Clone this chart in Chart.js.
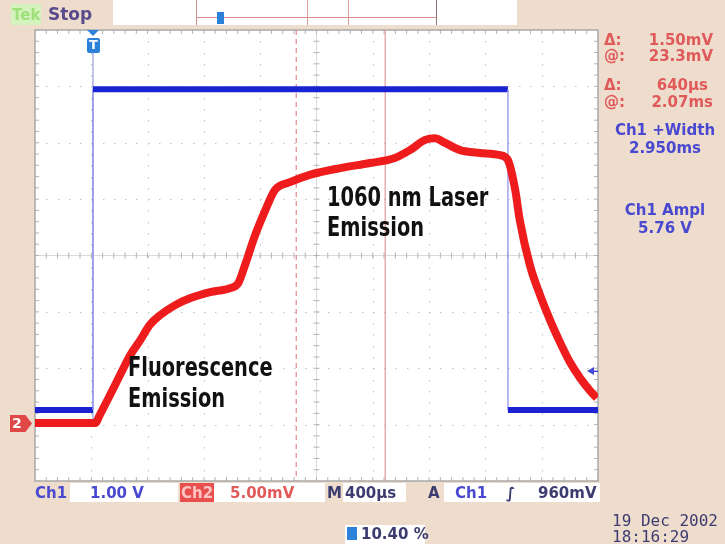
<!DOCTYPE html>
<html>
<head>
<meta charset="utf-8">
<title>Scope capture</title>
<script src="https://cdn.jsdelivr.net/npm/chart.js@4.4.1/dist/chart.umd.min.js"></script>
<style>
  html, body { margin: 0; padding: 0; }
  body {
    width: 725px; height: 544px; position: relative; overflow: hidden;
    background: #eedccd;
    font-family: "DejaVu Sans", "Liberation Sans", sans-serif; font-weight: bold;
  }
  #wrap { position: absolute; left: 0; top: 0; width: 725px; height: 544px; }
  .t { position: absolute; white-space: nowrap; font-size: 15px; line-height: 18px; }
  .box { position: absolute; background: #fff; }
  .red { color: #e05a5a; }
  .blue { color: #4848d0; }
  .navy { color: #3c3c70; }
  .note {
    position: absolute; white-space: nowrap; color: #111;
    font-family: "DejaVu Sans Condensed", "Liberation Sans Narrow", "DejaVu Sans", sans-serif;
    font-stretch: condensed; font-weight: bold; font-size: 26px; line-height: 28px;
    transform: scaleX(0.83); transform-origin: left top;
  }
  .vline { position: absolute; width: 1px; }
</style>
</head>
<body>
<div id="wrap"><canvas id="scope" width="725" height="544"></canvas></div>

<!-- top status bar -->
<div class="box" style="left:11px;top:4px;width:30px;height:21px;background:#d4f3bd;"></div>
<div class="t" style="left:12px;top:6px;color:#9fe07c;">Tek</div>
<div class="t" style="left:48px;top:5px;font-size:17px;color:#5a4c8c;">Stop</div>
<div class="box" style="left:113px;top:0;width:404px;height:25px;"></div>
<div class="box" style="left:196px;top:17px;width:240px;height:1px;background:#dc8a8a;"></div>
<div class="vline" style="left:196px;top:0;height:25px;background:#c89090;"></div>
<div class="vline" style="left:307px;top:0;height:25px;background:#dc9a9a;"></div>
<div class="vline" style="left:348px;top:0;height:25px;background:#dc9a9a;"></div>
<div class="vline" style="left:436px;top:0;height:25px;background:#8a7a7a;"></div>
<div class="box" style="left:217px;top:12px;width:7px;height:12px;background:#2c82d8;"></div>

<!-- marker glyphs -->
<div class="box" style="left:87px;top:38px;width:13px;height:15px;background:#2c82d8;border-radius:2px;"></div>
<div class="t" style="left:89px;top:36px;color:#fff;font-size:13px;">T</div>
<div class="box" style="left:10px;top:415px;width:22px;height:17px;background:#e04848;clip-path:polygon(0 0,70% 0,100% 50%,70% 100%,0 100%);"></div>
<div class="t" style="left:12px;top:414px;color:#fff;font-size:14px;">2</div>

<!-- annotations -->
<div class="note" style="left:327px;top:183px;">1060 nm Laser</div>
<div class="note" style="left:327px;top:213px;">Emission</div>
<div class="note" style="left:128px;top:353px;">Fluorescence</div>
<div class="note" style="left:128px;top:384px;">Emission</div>

<!-- right readouts -->
<div class="t red" style="left:604px;top:31px;">&Delta;:</div>
<div class="t red" style="left:630px;top:31px;width:83px;text-align:right;">1.50mV</div>
<div class="t red" style="left:604px;top:47px;">@:</div>
<div class="t red" style="left:630px;top:47px;width:83px;text-align:right;">23.3mV</div>
<div class="t red" style="left:604px;top:76px;">&Delta;:</div>
<div class="t red" style="left:630px;top:76px;width:78px;text-align:right;">640&micro;s</div>
<div class="t red" style="left:604px;top:93px;">@:</div>
<div class="t red" style="left:630px;top:93px;width:83px;text-align:right;">2.07ms</div>
<div class="t blue" style="left:600px;top:121px;width:130px;text-align:center;">Ch1 +Width</div>
<div class="t blue" style="left:600px;top:139px;width:130px;text-align:center;">2.950ms</div>
<div class="t blue" style="left:600px;top:201px;width:130px;text-align:center;">Ch1 Ampl</div>
<div class="t blue" style="left:600px;top:219px;width:130px;text-align:center;">5.76 V</div>

<!-- bottom readouts -->
<div class="t blue" style="left:35px;top:484px;">Ch1</div>
<div class="box" style="left:70px;top:483px;width:108px;height:19px;"></div>
<div class="t blue" style="left:90px;top:484px;">1.00 V</div>
<div class="box" style="left:180px;top:483px;width:34px;height:19px;background:#e85050;"></div>
<div class="t" style="left:181px;top:484px;color:#ffc4c4;">Ch2</div>
<div class="box" style="left:214px;top:483px;width:111px;height:19px;"></div>
<div class="t red" style="left:230px;top:484px;">5.00mV</div>
<div class="t navy" style="left:327px;top:484px;">M</div>
<div class="box" style="left:343px;top:483px;width:63px;height:19px;"></div>
<div class="t navy" style="left:345px;top:484px;">400&micro;s</div>
<div class="t navy" style="left:428px;top:484px;">A</div>
<div class="box" style="left:444px;top:483px;width:156px;height:19px;"></div>
<div class="t blue" style="left:455px;top:484px;">Ch1</div>
<div class="t navy" style="left:506px;top:484px;font-style:italic;">&int;</div>
<div class="t navy" style="left:538px;top:484px;">960mV</div>
<div class="box" style="left:345px;top:525px;width:80px;height:19px;"></div>
<div class="box" style="left:347px;top:527px;width:10px;height:13px;background:#2c82d8;"></div>
<div class="t navy" style="left:361px;top:525px;">10.40 %</div>
<div class="t navy" style="left:612px;top:512px;font-family:'DejaVu Sans Mono',monospace;font-weight:normal;font-size:16px;">19 Dec 2002</div>
<div class="t navy" style="left:612px;top:528px;font-family:'DejaVu Sans Mono',monospace;font-weight:normal;font-size:16px;">18:16:29</div>

<script>
// screen is 10 x 8 divisions; values below are in divisions
const xDivisions = 10;
const yDivisions = 8;

// Ch1 (blue) - laser pump pulse
const ch1Time  = [0, 1.03, 1.03, 8.40, 8.40, 10];
const ch1Level = [1.26, 1.26, 6.95, 6.95, 1.26, 1.26];

// Ch2 (red) - photodiode signal
const ch2Time  = [0, 1.07, 1.15, 1.33, 1.51, 1.69, 1.87, 2.04, 2.22, 2.49, 2.75, 3.11, 3.46, 3.61,
                  3.73, 3.91, 4.09, 4.26, 4.53, 4.88, 5.42, 5.95, 6.39, 6.66, 6.93, 7.10, 7.28, 7.55,
                  7.90, 8.26, 8.40, 8.53, 8.61, 8.79, 8.97, 9.15, 9.33, 9.50, 9.68, 9.86, 9.98];
const ch2Level = [1.03, 1.03, 1.17, 1.52, 1.88, 2.23, 2.50, 2.77, 2.94, 3.12, 3.24, 3.35, 3.42, 3.51,
                  3.83, 4.36, 4.80, 5.16, 5.30, 5.43, 5.55, 5.64, 5.73, 5.87, 6.05, 6.08, 6.00, 5.87,
                  5.82, 5.78, 5.69, 5.16, 4.63, 3.83, 3.30, 2.85, 2.45, 2.11, 1.83, 1.60, 1.47];

// cursors and trigger
const cursorDashed = 4.64;
const cursorSolid = 6.22;
const triggerTime = 1.03;
const triggerLevel = 1.95;

const toPoints = (xs, ys) => xs.map((v, i) => ({ x: v, y: ys[i] }));

const graticule = {
    id: 'graticule',
    beforeDatasetsDraw(chart) {
        const { ctx, chartArea: a, scales: { x, y } } = chart;
        ctx.save();
        ctx.fillStyle = '#ffffff';
        ctx.fillRect(a.left, a.top, a.width, a.height);

        // dotted division lines
        ctx.fillStyle = '#c2c2c2';
        for (let i = 1; i < xDivisions; i++) {
            if (i === xDivisions / 2) continue;
            const px = Math.round(x.getPixelForValue(i));
            for (let k = 1; k < yDivisions * 5; k++) {
                ctx.fillRect(px, Math.round(y.getPixelForValue(k / 5)), 1, 1.5);
            }
        }
        for (let j = 1; j < yDivisions; j++) {
            if (j === yDivisions / 2) continue;
            const py = Math.round(y.getPixelForValue(j));
            for (let k = 1; k < xDivisions * 5; k++) {
                ctx.fillRect(Math.round(x.getPixelForValue(k / 5)), py, 1.5, 1);
            }
        }

        // centre cross with minor ticks
        const cx = x.getPixelForValue(xDivisions / 2);
        const cy = y.getPixelForValue(yDivisions / 2);
        ctx.strokeStyle = '#dadada';
        ctx.lineWidth = 1;
        ctx.beginPath();
        ctx.moveTo(cx, a.top); ctx.lineTo(cx, a.bottom);
        ctx.moveTo(a.left, cy); ctx.lineTo(a.right, cy);
        ctx.stroke();
        ctx.strokeStyle = '#b4b4b4';
        ctx.beginPath();
        for (let k = 1; k < xDivisions * 5; k++) {
            const px = x.getPixelForValue(k / 5);
            ctx.moveTo(px, cy - 3); ctx.lineTo(px, cy + 3);
            ctx.moveTo(px, a.top); ctx.lineTo(px, a.top + 4);
            ctx.moveTo(px, a.bottom); ctx.lineTo(px, a.bottom - 4);
        }
        for (let k = 1; k < yDivisions * 5; k++) {
            const py = y.getPixelForValue(k / 5);
            ctx.moveTo(cx - 3, py); ctx.lineTo(cx + 3, py);
            ctx.moveTo(a.left, py); ctx.lineTo(a.left + 4, py);
            ctx.moveTo(a.right, py); ctx.lineTo(a.right - 4, py);
        }
        ctx.stroke();

        // frame
        ctx.strokeStyle = '#a8a8a8';
        ctx.lineWidth = 1.5;
        ctx.strokeRect(a.left, a.top, a.width, a.height);

        // time cursors
        ctx.lineWidth = 1.2;
        ctx.strokeStyle = '#e08a8a';
        ctx.setLineDash([5, 4]);
        let px = x.getPixelForValue(cursorDashed);
        ctx.beginPath(); ctx.moveTo(px, a.top); ctx.lineTo(px, a.bottom); ctx.stroke();
        ctx.setLineDash([]);
        ctx.strokeStyle = '#e49a9a';
        px = x.getPixelForValue(cursorSolid);
        ctx.beginPath(); ctx.moveTo(px, a.top); ctx.lineTo(px, a.bottom); ctx.stroke();

        // trigger position line
        ctx.strokeStyle = '#9a9ae6';
        ctx.lineWidth = 1.2;
        px = x.getPixelForValue(triggerTime);
        ctx.beginPath();
        ctx.moveTo(px, y.getPixelForValue(7.73));
        ctx.lineTo(px, y.getPixelForValue(1.1));
        ctx.stroke();
        ctx.restore();
    },
    afterDatasetsDraw(chart) {
        const { ctx, chartArea: a, scales: { x, y } } = chart;
        ctx.save();
        // trigger level arrow on the right edge
        const py = y.getPixelForValue(triggerLevel);
        ctx.fillStyle = '#4848d8';
        ctx.beginPath();
        ctx.moveTo(a.right - 11, py);
        ctx.lineTo(a.right - 4, py - 4);
        ctx.lineTo(a.right - 4, py + 4);
        ctx.closePath();
        ctx.fill();
        ctx.fillRect(a.right - 5, py - 0.5, 5, 1.5);
        // trigger position arrow at the top
        const px = x.getPixelForValue(triggerTime);
        ctx.fillStyle = '#2c82d8';
        ctx.beginPath();
        ctx.moveTo(px - 6, a.top);
        ctx.lineTo(px + 6, a.top);
        ctx.lineTo(px, a.top + 6);
        ctx.closePath();
        ctx.fill();
        ctx.restore();
    }
};

const isEdge = c => c.p0.parsed.x === c.p1.parsed.x;

new Chart(document.getElementById('scope'), {
    type: 'scatter',
    data: {
        datasets: [
            {
                label: 'Ch1',
                data: toPoints(ch1Time, ch1Level),
                showLine: true,
                pointRadius: 0,
                borderColor: '#1a22d2',
                borderWidth: 6,
                segment: {
                    borderWidth: c => isEdge(c) ? 1.2 : 6,
                    borderColor: c => isEdge(c) ? '#8c8ce6' : '#1a22d2'
                },
                order: 2
            },
            {
                label: 'Ch2',
                data: toPoints(ch2Time, ch2Level),
                showLine: true,
                pointRadius: 0,
                borderColor: '#ee1c1c',
                borderWidth: 8,
                borderJoinStyle: 'round',
                borderCapStyle: 'butt',
                cubicInterpolationMode: 'monotone',
                order: 1
            }
        ]
    },
    options: {
        responsive: false,
        animation: false,
        layout: { padding: { left: 35, top: 30, right: 127, bottom: 63 } },
        plugins: { legend: { display: false }, tooltip: { enabled: false } },
        scales: {
            x: { type: 'linear', min: 0, max: xDivisions, display: false },
            y: { type: 'linear', min: 0, max: yDivisions, display: false }
        }
    },
    plugins: [graticule]
});
</script>
</body>
</html>
